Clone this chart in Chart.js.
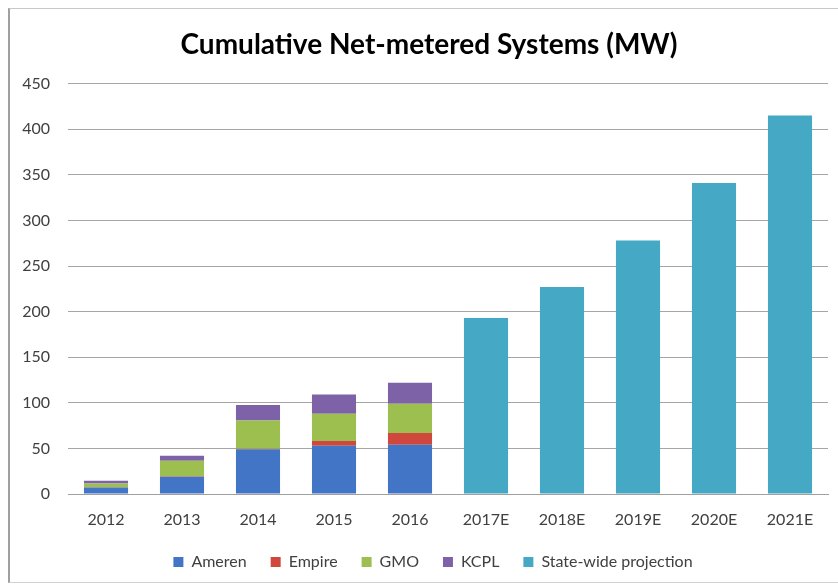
<!DOCTYPE html>
<html>
<head>
<meta charset="utf-8">
<script src="https://cdn.jsdelivr.net/npm/chart.js@4.4.1/dist/chart.umd.min.js"></script>
<style>
  html, body { margin: 0; padding: 0; background: #fff; }
  #wrap { position: relative; width: 838px; height: 586px; overflow: hidden; }
  #frame { position: absolute; left: 8px; top: 8px; width: 840px; height: 573px;
           border-top: 1px solid #c8c8c8; border-bottom: 1px solid #d0d0d0; border-left: 2px solid #a0a0a0; }
  canvas { position: absolute; left: 0; top: 0; }
</style>
</head>
<body>
<div id="wrap">
  <div id="frame"></div>
  <canvas id="c" width="838" height="586"></canvas>
</div>
<script>
const categories = ['2012', '2013', '2014', '2015', '2016', '2017E', '2018E', '2019E', '2020E', '2021E'];
const ameren  = [7, 19, 49, 53, 54, null, null, null, null, null];
const empire  = [0.5, 0.5, 0.5, 5, 13, null, null, null, null, null];
const gmo     = [4, 17, 31, 30, 32, null, null, null, null, null];
const kcpl    = [3, 5.5, 17, 21, 23, null, null, null, null, null];
const statewide = [null, null, null, null, null, 193, 227, 278, 341, 415];
const yTicks = [0, 50, 100, 150, 200, 250, 300, 350, 400, 450];

const FONT = 'Lato, "Open Sans", sans-serif';

const mk = (label, data, color) => ({
  label, data, backgroundColor: color, borderWidth: 0,
  barPercentage: 0.58, categoryPercentage: 1.0, stack: 's'
});

// Shift title and legend to the right, like the reference (whose frame sits off-centre)
const shiftBlocks = {
  id: 'shiftBlocks',
  afterLayout(chart) {
    if (chart.legend) { chart.legend.left += 19; chart.legend.right += 19; }
    if (chart.titleBlock) { chart.titleBlock.left += 15; chart.titleBlock.right += 15; }
  }
};

new Chart(document.getElementById('c'), {
  type: 'bar',
  data: {
    labels: categories,
    datasets: [
      mk('Ameren', ameren, '#4275C5'),
      mk('Empire', empire, '#D0483D'),
      mk('GMO', gmo, '#9DBF4F'),
      mk('KCPL', kcpl, '#7D62A8'),
      mk('State-wide projection', statewide, '#45A9C6')
    ]
  },
  plugins: [shiftBlocks],
  options: {
    responsive: false,
    animation: false,
    layout: { padding: { left: 0, right: 10, top: 0, bottom: 6 } },
    plugins: {
      title: {
        display: true,
        text: 'Cumulative Net-metered Systems (MW)',
        color: '#000',
        font: { family: FONT, size: 28, weight: 'bold' },
        padding: { top: 28, bottom: 22 }
      },
      legend: {
        position: 'bottom',
        labels: {
          color: '#404040',
          font: { family: FONT, size: 16 },
          boxWidth: 10, boxHeight: 10,
          padding: 24
        }
      },
      tooltip: { enabled: false }
    },
    scales: {
      x: {
        stacked: true,
        grid: { display: false, drawTicks: false },
        border: { display: true, color: '#a0a0a0', width: 1 },
        ticks: { color: '#404040', font: { family: FONT, size: 16 }, padding: 16, maxRotation: 0 },
        afterFit: s => { s.height = 36; }
      },
      y: {
        stacked: true,
        min: 0, max: 450,
        afterBuildTicks: s => { s.ticks = yTicks.map(v => ({ value: v })); },
        grid: { color: '#a6a6a6', lineWidth: 1, drawTicks: false },
        border: { display: false },
        ticks: { color: '#404040', font: { family: FONT, size: 16 }, padding: 18 },
        afterFit: s => { s.width = 68; }
      }
    }
  }
});
</script>
</body>
</html>
